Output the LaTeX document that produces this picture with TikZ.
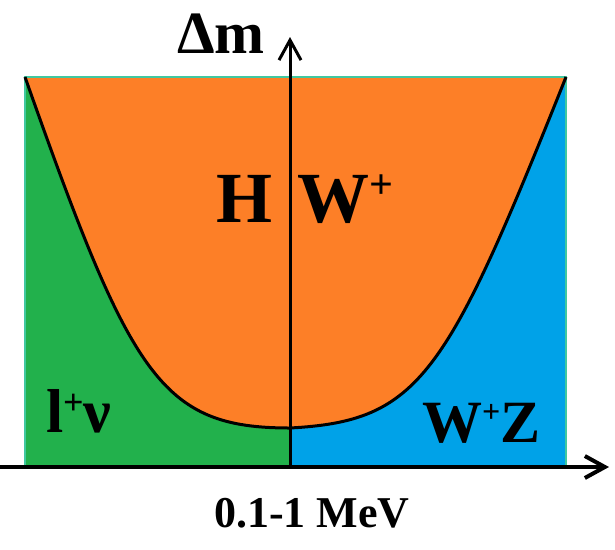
\documentclass[tikz,border=0pt]{standalone}
\usepackage{fontspec}
\setmainfont{Liberation Serif}
\usetikzlibrary{arrows.meta}
\definecolor{pgreen}{HTML}{22B14C}
\definecolor{porange}{HTML}{FD7F27}
\definecolor{pblue}{HTML}{00A2E8}
\definecolor{pteal}{HTML}{40C8A0}
\newcommand{\supplus}[2]{\raisebox{#2}{\fontsize{#1}{#1}\selectfont +}}
\tikzset{
  lbl/.style={inner sep=0pt, outer sep=0pt, anchor=base west, font=\bfseries},
  axis/.style={draw=black, -{Straight Barb[length=20pt,width=22pt]}},
}
\begin{document}
\begin{tikzpicture}[x=1pt,y=-1pt]
\useasboundingbox (0,0) rectangle (615,549);
\coordinate (tl) at (25,77);
\coordinate (tr) at (566,77);
\coordinate (bl) at (25,467);
\coordinate (br) at (566,467);
\coordinate (m) at (290,428);
\coordinate (o) at (290,467);
% region fills
\fill[porange] (tl) rectangle (br);
\fill[pgreen] (tl) .. controls (131,377) and (160,428) .. (m) -- (o) -- (bl) -- cycle;
\fill[pblue] (m) .. controls (420,421) and (446,377) .. (tr) -- (br) -- (o) -- cycle;
% thin border
\draw[pteal, line width=1.2pt] (bl) -- (tl) -- (tr) -- (br);
% boundary curve
\draw[black, line width=3pt, line join=round]
  (tl) .. controls (131,377) and (160,428) .. (m)
       .. controls (420,421) and (446,377) .. (tr);
% axes
\coordinate (xs) at (0,467);
\coordinate (xe) at (609,467);
\coordinate (ye) at (290,37);
\draw[axis, line width=4pt] (xs) -- (xe);
\draw[axis, line width=3pt] (o) -- (ye);
% labels
\node[lbl, font=\bfseries\fontsize{60}{60}\selectfont] (dm) at (177,53) {Δm};
\node[lbl, font=\bfseries\fontsize{72}{72}\selectfont] (h) at (216,222) {H};
\node[lbl, font=\bfseries\fontsize{72}{72}\selectfont] (w) at (297,222) {W\supplus{42}{24pt}};
\node[lbl, font=\bfseries\fontsize{62}{62}\selectfont] (lnu) at (46,432) {l\supplus{36}{18pt}ν};
\node[lbl, font=\bfseries\fontsize{60}{60}\selectfont] (wz) at (422,442) {W\supplus{32}{20pt}Z};
\node[lbl, font=\bfseries\fontsize{44}{44}\selectfont] (mev) at (214,527) {0.1-1 MeV};
\end{tikzpicture}
\end{document}
